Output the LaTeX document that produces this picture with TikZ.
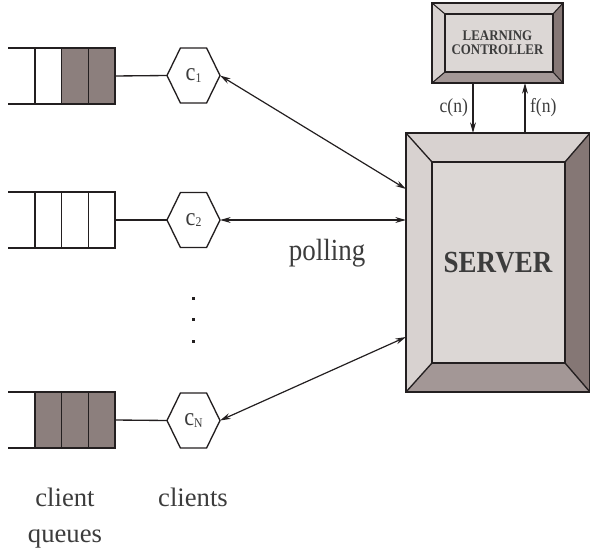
\documentclass[tikz,border=0pt]{standalone}
\usepackage{fontspec}
\setmainfont{Liberation Serif}[FakeStretch=0.88]
\newfontfamily\labelfont{Liberation Serif}
\usetikzlibrary{arrows.meta,positioning,shapes.symbols,calc,backgrounds}

\definecolor{linegray}{HTML}{231F20}
\definecolor{textgray}{HTML}{3C3C3C}
\definecolor{cellshade}{HTML}{8C7F7D}
\definecolor{facelight}{HTML}{DCD7D5}
\definecolor{bevellight}{HTML}{D8D2D0}
\definecolor{beveldark}{HTML}{857775}
\definecolor{bevelmid}{HTML}{A39796}

\tikzset{
  cell/.style={draw=linegray,line width=1pt,minimum width=20pt,minimum height=42pt,inner sep=0pt,outer sep=0pt},
  fullcell/.style={cell,fill=cellshade},
  client/.style={signal,signal to=west and east,signal pointer angle=128,draw=linegray,line width=1pt,
    minimum width=39.75pt,minimum height=41.25pt,inner sep=0pt,outer sep=0pt,text=textgray,font=\fontsize{19}{21}\selectfont},
  link/.style={linegray,line width=0.9pt,{Stealth[length=8pt,width=4.4pt]}-{Stealth[length=8pt,width=4.4pt]}},
  caption/.style={text=textgray,font=\labelfont\fontsize{20}{27}\selectfont,align=center}
}

\begin{document}
\begin{tikzpicture}[x=0.75pt,y=-0.75pt]
  \useasboundingbox (0,0) rectangle (590,550);
  % client queues
  \node[fullcell] (q_13) at (101.5,76) {};
  \node[fullcell] (q_12) [left=0pt of q_13] {};
  \node[cell]     (q_11) [left=0pt of q_12] {};
  \node[cell]     (q_23) at (101.5,220) {};
  \node[cell]     (q_22) [left=0pt of q_23] {};
  \node[cell]     (q_21) [left=0pt of q_22] {};
  \node[fullcell] (q_N3) at (101.5,420) {};
  \node[fullcell] (q_N2) [left=0pt of q_N3] {};
  \node[fullcell] (q_N1) [left=0pt of q_N2] {};
  \foreach \q in {1,2,N}
    \draw[linegray,line width=1pt] ([xshift=-20pt]q_\q1.north west) -- (q_\q1.north west)
      ([xshift=-20pt]q_\q1.south west) -- (q_\q1.south west);

  % clients
  \node[client] (c_1) at (193.5,75.5) {c{\fontsize{10}{12}\selectfont\raisebox{-0.25ex}{1}}};
  \node[client] (c_2) at (193.5,220) {c{\fontsize{10}{12}\selectfont\raisebox{-0.25ex}{2}}};
  \node[client] (c_N) at (193.5,420.5) {c{\fontsize{10}{12}\selectfont\raisebox{-0.25ex}{N}}};
  \foreach \q in {1,2,N}
    \draw[linegray,line width=1pt] (q_\q3.east) -- (c_\q.west);
  \foreach \y in {298,319,341}
    \fill[linegray] (191.5,\y-1.5) rectangle (194.5,\y+1.5);

  % server
  \node[draw=linegray,line width=1.4pt,minimum width=138pt,minimum height=194.25pt,outer sep=0pt,
    text=textgray,font=\bfseries\fontsize{23}{27}\selectfont] (server) at (498,262.5) {SERVER};
  \begin{scope}[on background layer]
    \coordinate (si_nw) at ($(server.north west)+(26,29)$);
    \coordinate (si_se) at ($(server.south east)+(-25,-29)$);
    \fill[bevellight] (server.north west) rectangle (server.south east);
    \fill[beveldark] (server.north east) -- (si_nw -| si_se) -- (si_se) -- (server.south east) -- cycle;
    \fill[bevelmid] (server.south west) -- (si_nw |- si_se) -- (si_se) -- (server.south east) -- cycle;
    \draw[linegray,line width=1.2pt,fill=facelight] (si_nw) rectangle (si_se);
    \draw[linegray,line width=1pt] (server.north west) -- (si_nw) (server.north east) -- (si_nw -| si_se)
      (server.south west) -- (si_nw |- si_se) (server.south east) -- (si_se);
  \end{scope}

  % learning controller
  \node[draw=linegray,line width=1.2pt,minimum width=98.25pt,minimum height=60pt,outer sep=0pt,align=center,
    text=textgray,font=\bfseries\fontsize{11}{10.5}\selectfont] (ctrl) at (497.5,43) {LEARNING\\CONTROLLER};
  \begin{scope}[on background layer]
    \coordinate (ci_nw) at ($(ctrl.north west)+(13,11)$);
    \coordinate (ci_se) at ($(ctrl.south east)+(-10,-11)$);
    \fill[bevellight] (ctrl.north west) rectangle (ctrl.south east);
    \fill[beveldark] (ctrl.north east) -- (ci_nw -| ci_se) -- (ci_se) -- (ctrl.south east) -- cycle;
    \fill[bevelmid] (ctrl.south west) -- (ci_nw |- ci_se) -- (ci_se) -- (ctrl.south east) -- cycle;
    \draw[linegray,line width=1pt,fill=facelight] (ci_nw) rectangle (ci_se);
    \draw[linegray,line width=0.8pt] (ctrl.north west) -- (ci_nw) (ctrl.north east) -- (ci_nw -| ci_se)
      (ctrl.south west) -- (ci_nw |- ci_se) (ctrl.south east) -- (ci_se);
  \end{scope}

  % polling links
  \coordinate (s_1) at (406,189);
  \coordinate (s_2) at (406,220);
  \coordinate (s_N) at (406,337);
  \foreach \q in {1,2,N}
    \draw[link] (c_\q.east) -- (s_\q);
  \coordinate (cn) at (473,0);
  \coordinate (fn) at (525,0);
  \draw[link,-{Stealth[length=8pt,width=4.4pt]}] (ctrl.south -| cn) -- node[left,text=textgray,font=\fontsize{15}{17}\selectfont] {c(n)} (server.north -| cn);
  \draw[link,-{Stealth[length=8pt,width=4.4pt]}] (server.north -| fn) -- node[right,text=textgray,font=\fontsize{15}{17}\selectfont] {f(n)} (ctrl.south -| fn);

  % labels
  \node[text=textgray,font=\fontsize{23}{27}\selectfont] (poll) at (327,253) {polling};
  \node[caption,anchor=base] (qlabel) at (65,542) {client\\queues};
  \node[caption,anchor=base] (clabel) at (193,506) {clients};
\end{tikzpicture}
\end{document}
